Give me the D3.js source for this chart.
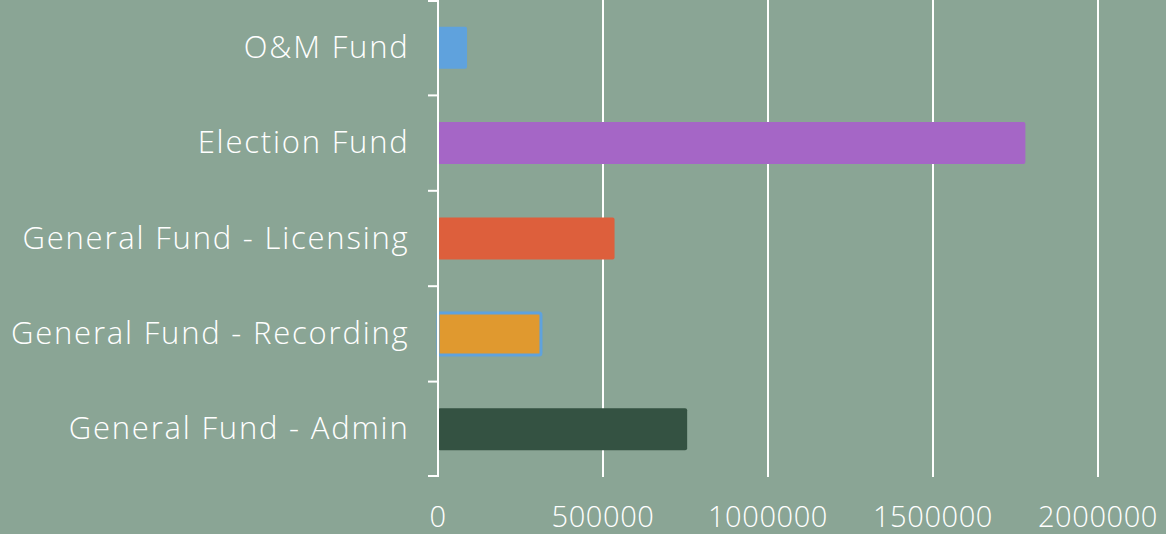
<!DOCTYPE html>
<html>
<head>
<meta charset="utf-8">
<script src="https://cdn.jsdelivr.net/npm/d3@7"></script>
<style>
  html, body { margin: 0; padding: 0; background: #8aa595; }
  svg { display: block; }
</style>
</head>
<body>
<script>
// funds top to bottom, as drawn
var funds = ["O&M Fund", "Election Fund", "General Fund - Licensing", "General Fund - Recording", "General Fund - Admin"];
var amounts = [88000, 1780000, 535000, 312000, 755000];
var fills = ["#5fa2dd", "#a566c6", "#dd5f3c", "#e0992f", "#345242"];
var tickValues = [0, 500000, 1000000, 1500000, 2000000];

var width = 1166;
var height = 534;
var plotLeft = 438;
var plotTop = 0;
var plotBottom = 477;

var svg = d3.select("body")
    .append("svg")
    .attr("width", width)
    .attr("height", height)
    .style("font-family", "'Open Sans', sans-serif")
    .style("font-weight", 300);

svg.append("rect")
    .attr("width", width)
    .attr("height", height)
    .attr("fill", "#8aa595");

let xScale = d3.scaleLinear()
    .domain([0, 2000000])
    .range([plotLeft, plotLeft + 660]);

let yScale = d3.scaleBand()
    .domain(funds)
    .range([plotTop, plotBottom])
    .paddingInner(0.56)
    .paddingOuter(0.28);

// grid lines
svg.selectAll("line.grid")
    .data(tickValues.slice(1))
    .enter()
    .append("line")
    .attr("class", "grid")
    .attr("x1", (d) => xScale(d))
    .attr("x2", (d) => xScale(d))
    .attr("y1", plotTop)
    .attr("y2", plotBottom)
    .attr("stroke", "#ffffff")
    .attr("stroke-width", 2);

// bars
let rows = funds.map((f, i) => ({ fund: f, amount: amounts[i], fill: fills[i] }));

svg.selectAll("rect.bar")
    .data(rows)
    .enter()
    .append("rect")
    .attr("class", "bar")
    .attr("x", xScale(0))
    .attr("y", (d) => yScale(d.fund))
    .attr("width", (d) => xScale(d.amount) - xScale(0))
    .attr("height", yScale.bandwidth())
    .attr("rx", 2)
    .attr("fill", (d) => d.fill)
    .attr("stroke", (d) => d.fund == "General Fund - Recording" ? "#5fa2dd" : "none")
    .attr("stroke-width", 3);

// y axis: line with ticks on band boundaries
let boundaries = d3.range(funds.length + 1).map((i) => plotTop + i * (plotBottom - plotTop) / funds.length);

svg.append("line")
    .attr("x1", plotLeft)
    .attr("x2", plotLeft)
    .attr("y1", plotTop)
    .attr("y2", plotBottom)
    .attr("stroke", "#ffffff")
    .attr("stroke-width", 2);

svg.selectAll("line.ytick")
    .data(boundaries)
    .enter()
    .append("line")
    .attr("class", "ytick")
    .attr("x1", plotLeft - 10)
    .attr("x2", plotLeft)
    .attr("y1", (d) => Math.min(Math.max(d, 1), plotBottom - 1))
    .attr("y2", (d) => Math.min(Math.max(d, 1), plotBottom - 1))
    .attr("stroke", "#ffffff")
    .attr("stroke-width", 2);

// category labels
svg.selectAll("text.cat")
    .data(funds)
    .enter()
    .append("text")
    .attr("class", "cat")
    .text((d) => d)
    .attr("x", 409.5)
    .attr("y", (d) => yScale(d) + yScale.bandwidth() / 2 + 10)
    .attr("text-anchor", "end")
    .attr("font-size", "31px")
    .attr("letter-spacing", "1.8px")
    .attr("fill", "#ffffff");

// x tick labels
svg.selectAll("text.xt")
    .data(tickValues)
    .enter()
    .append("text")
    .attr("class", "xt")
    .text((d) => d)
    .attr("x", (d) => xScale(d))
    .attr("y", 527)
    .attr("text-anchor", "middle")
    .attr("font-size", "29px")
    .attr("letter-spacing", "0.6px")
    .attr("fill", "#ffffff");
</script>
</body>
</html>
